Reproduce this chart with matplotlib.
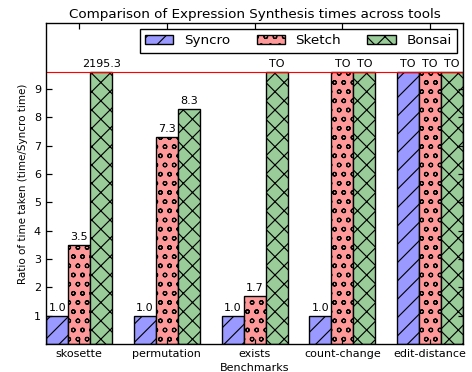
import numpy as np
import matplotlib
matplotlib.use('Agg')
import matplotlib.pyplot as plt

benchmarks = ['skosette', 'permutation', 'exists', 'count-change', 'edit-distance']
tools = ['Syncro', 'Sketch', 'Bonsai']
# None means timed out (TO)
syncro = [1.0, 1.0, 1.0, 1.0, None]
sketch = [3.5, 7.3, 1.7, None, None]
bonsai = [2195.3, 8.3, None, None, None]
cap = 9.6

colors = ['#9999ff', '#ff9999', '#99cc99']
hatches = ['//', 'oo', 'xx']

# dpi 110 so the hatch tiles come out near the original spacing
DPI = 110
plt.rcParams['hatch.linewidth'] = 0.75
plt.rcParams['xtick.direction'] = 'in'
plt.rcParams['ytick.direction'] = 'in'

fig, ax = plt.subplots(figsize=(472 / DPI, 372 / DPI), dpi=DPI)
fig.subplots_adjust(left=0.098, right=0.981, top=0.938, bottom=0.075)

x = np.arange(len(benchmarks))
width = 0.25
series = [syncro, sketch, bonsai]
for k in range(3):
	vals = series[k]
	heights = [cap if (v is None or v > cap) else v for v in vals]
	pos = x + (k - 1) * width
	ax.bar(pos, heights, width, color=colors[k], hatch=hatches[k], edgecolor='black',
		linewidth=0.9, label=tools[k])
	for p, v, h in zip(pos, vals, heights):
		txt = 'TO' if v is None else '{0:.1f}'.format(v)
		ax.text(p, h + 0.1, txt, ha='center', va='bottom', fontsize=7.3)

ax.axhline(cap, color='red', linewidth=0.75)
ax.set_xlim(-0.375, 4.375)
ax.set_ylim(0, 11.32)
ax.set_yticks(range(1, 10))
ax.set_xticks(x)
ax.set_xticklabels(benchmarks, fontsize=7.3)
ax.tick_params(axis='y', labelsize=7.3)
ax.tick_params(top=True, right=True, length=3.6, width=0.8)
for s in ax.spines.values():
	s.set_linewidth(0.9)
ax.set_xlabel('Benchmarks', fontsize=7.3, labelpad=2)
ax.set_ylabel('Ratio of time taken (time/Syncro time)', fontsize=6.8)
ax.set_title('Comparison of Expression Synthesis times across tools', fontsize=8.8, pad=3)
leg = ax.legend(loc='upper right', ncol=3, fontsize=8.8, fancybox=False, framealpha=1,
	edgecolor='black', handlelength=2.1, handletextpad=0.8, columnspacing=1.95,
	borderaxespad=0.45)
leg.get_frame().set_linewidth(0.9)

plt.savefig('out.png', dpi=DPI)
